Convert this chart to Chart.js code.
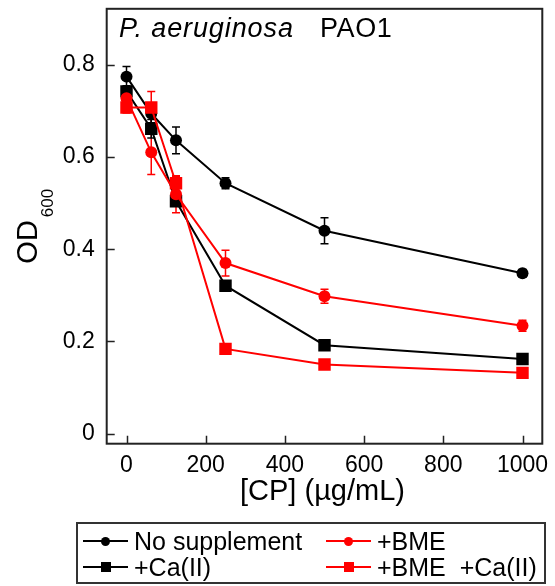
<!DOCTYPE html>
<html lang="en">
<head>
<title>P. aeruginosa PAO1</title>
<script src="https://cdn.jsdelivr.net/npm/chart.js"></script>
<style>
    body {
        margin: 0;
        background: #fff;
        font-family: 'Liberation Sans', Arial, sans-serif;
    }
    .wrap { position: relative; width: 555px; height: 586px; }
    .chart-box { position: absolute; left: 0; top: 0; width: 555px; height: 586px; }
    .legend-box {
        position: absolute;
        left: 76px; top: 522px;
        width: 470px; height: 62px;
        box-sizing: border-box;
        border: 2px solid #333;
    }
    .legend-item {
        position: absolute;
        height: 26px;
        font-size: 25px;
        line-height: 26px;
        white-space: pre;
        color: #000;
    }
    .legend-line { position: absolute; left: 0; width: 45px; top: 12px; height: 2px; }
    .legend-mark { position: absolute; }
    .legend-text { position: absolute; left: 51px; top: 0; }
</style>
</head>
<body>
<div class="wrap">
    <div class="chart-box"><canvas id="odChart"></canvas></div>
    <div class="legend-box" id="legend-container"></div>
</div>

<script>
    // concentraciones de CP (ug/mL)
    const cpValues = [0, 62.5, 125, 250, 500, 1000];

    // OD600 por condicion
    const noSupplement = [0.774, 0.694, 0.636, 0.543, 0.440, 0.348];
    const plusCa = [0.742, 0.661, 0.504, 0.321, 0.192, 0.162];
    const plusBme = [0.727, 0.610, 0.519, 0.370, 0.298, 0.234];
    const plusBmeCa = [0.707, 0.707, 0.543, 0.184, 0.150, 0.132];

    // barras de error (+/-)
    const noSupplementErr = [0.022, 0.020, 0.029, 0.012, 0.028, 0.008];
    const plusCaErr = [0.012, 0.020, 0.010, 0.010, 0.010, 0.008];
    const plusBmeErr = [0.015, 0.048, 0.040, 0.028, 0.015, 0.012];
    const plusBmeCaErr = [0.012, 0.035, 0.015, 0.010, 0.008, 0.008];

    const xTicks = [0, 200, 400, 600, 800, 1000];
    const yTicks = [0, 0.2, 0.4, 0.6, 0.8];

    // el primero se dibuja encima
    const series = [
        { label: '+BME', values: plusBme, errors: plusBmeErr, color: '#ff0000', shape: 'circle', row: 0, col: 1 },
        { label: '+BME  +Ca(II)', values: plusBmeCa, errors: plusBmeCaErr, color: '#ff0000', shape: 'rect', row: 1, col: 1 },
        { label: '+Ca(II)', values: plusCa, errors: plusCaErr, color: '#000000', shape: 'rect', row: 1, col: 0 },
        { label: 'No supplement', values: noSupplement, errors: noSupplementErr, color: '#000000', shape: 'circle', row: 0, col: 0 }
    ];

    const FONT = '"Liberation Sans", Arial, sans-serif';

    const decor = {
        id: 'decor',
        beforeDatasetsDraw(chart) {
            // barras de error detras de los marcadores
            const { ctx, scales: { x, y } } = chart;
            chart.data.datasets.forEach((ds, i) => {
                const err = series[i].errors;
                ctx.save();
                ctx.strokeStyle = ds.borderColor;
                ctx.lineWidth = 1.5;
                ds.data.forEach((p, j) => {
                    const px = x.getPixelForValue(p.x);
                    const y1 = y.getPixelForValue(p.y + err[j]);
                    const y2 = y.getPixelForValue(p.y - err[j]);
                    ctx.beginPath();
                    ctx.moveTo(px, y1); ctx.lineTo(px, y2);
                    ctx.moveTo(px - 4, y1); ctx.lineTo(px + 4, y1);
                    ctx.moveTo(px - 4, y2); ctx.lineTo(px + 4, y2);
                    ctx.stroke();
                });
                ctx.restore();
            });
        },
        afterDraw(chart) {
            const { ctx, chartArea: a, scales: { x, y } } = chart;
            ctx.save();
            // marco
            ctx.strokeStyle = '#222';
            ctx.lineWidth = 2;
            ctx.strokeRect(a.left, a.top, a.right - a.left, a.bottom - a.top);
            // ticks hacia dentro
            ctx.lineWidth = 1.5;
            ctx.beginPath();
            yTicks.forEach(v => {
                const py = Math.round(y.getPixelForValue(v)) + 0.5;
                ctx.moveTo(a.left, py); ctx.lineTo(a.left + 8, py);
            });
            xTicks.forEach(v => {
                const px = Math.round(x.getPixelForValue(v)) + 0.5;
                ctx.moveTo(px, a.bottom); ctx.lineTo(px, a.bottom - 8);
            });
            ctx.stroke();

            ctx.fillStyle = '#000';
            // titulo
            ctx.textBaseline = 'alphabetic';
            ctx.textAlign = 'left';
            ctx.font = 'italic 27px ' + FONT;
            ctx.letterSpacing = '0.9px';
            ctx.fillText('P. aeruginosa', 119, 37);
            ctx.letterSpacing = '0.6px';
            ctx.font = '27px ' + FONT;
            ctx.fillText('PAO1', 320, 37);
            ctx.letterSpacing = '0px';

            // titulo eje x
            ctx.textAlign = 'center';
            ctx.font = '29px ' + FONT;
            ctx.fillText('[CP] (\u00b5g/mL)', (a.left + a.right) / 2 - 2, 500);

            // titulo eje y con subindice
            ctx.font = '29px ' + FONT;
            const wOD = ctx.measureText('OD').width;
            ctx.font = '17px ' + FONT;
            const wSub = ctx.measureText('600').width;
            const total = wOD + 3 + wSub;
            ctx.translate(37, (a.top + a.bottom) / 2 + total / 2);
            ctx.rotate(-Math.PI / 2);
            ctx.textAlign = 'left';
            ctx.font = '29px ' + FONT;
            ctx.fillText('OD', 0, 0);
            ctx.font = '17px ' + FONT;
            ctx.fillText('600', wOD + 3, 16);
            ctx.restore();
        }
    };

    const ctx = document.getElementById('odChart').getContext('2d');
    const chart = new Chart(ctx, {
        type: 'line',
        data: {
            datasets: series.map(s => ({
                label: s.label,
                data: cpValues.map((c, i) => ({ x: c, y: s.values[i] })),
                borderColor: s.color,
                backgroundColor: s.color,
                pointBackgroundColor: s.color,
                pointBorderColor: s.color,
                pointStyle: s.shape,
                pointRadius: s.shape === 'rect' ? 8.8 : 6,
                pointBorderWidth: 0,
                borderWidth: 2,
                tension: 0
            }))
        },
        options: {
            responsive: true,
            maintainAspectRatio: false,
            animation: false,
            layout: { padding: { left: 0, right: 12.7, top: 8, bottom: 0 } },
            plugins: {
                legend: { display: false },
                tooltip: { enabled: false }
            },
            scales: {
                x: {
                    type: 'linear',
                    min: -50,
                    max: 1050,
                    afterBuildTicks: s => { s.ticks = xTicks.map(v => ({ value: v })); },
                    afterFit: s => {
                        s.height = 586 - 443.7;
                        s.paddingLeft = 0; s.paddingRight = 0;
                    },
                    grid: { display: false, drawTicks: false },
                    border: { display: false },
                    ticks: {
                        color: '#000',
                        padding: 8,
                        maxRotation: 0,
                        font: { size: 23, family: FONT },
                        callback: v => String(v)
                    }
                },
                y: {
                    min: -0.0215,
                    max: 0.921,
                    afterBuildTicks: s => { s.ticks = yTicks.map(v => ({ value: v })); },
                    afterFit: s => {
                        s.width = 106.7;
                        s.paddingTop = 0; s.paddingBottom = 0;
                    },
                    grid: { display: false, drawTicks: false },
                    border: { display: false },
                    ticks: {
                        color: '#000',
                        padding: 12,
                        font: { size: 23, family: FONT },
                        callback: v => String(Number(v.toFixed(1)))
                    }
                }
            }
        },
        plugins: [decor]
    });

    // leyenda en dos columnas
    const legendContainer = document.getElementById('legend-container');
    const colX = [5, 248];
    const rowY = [4, 30];
    series.forEach(s => {
        const item = document.createElement('div');
        item.className = 'legend-item';
        item.style.left = colX[s.col] + 'px';
        item.style.top = rowY[s.row] + 'px';
        const size = s.shape === 'rect' ? 10 : 9;
        const radius = s.shape === 'rect' ? '0' : '50%';
        item.innerHTML = `
            <div class="legend-line" style="background:${s.color};"></div>
            <div class="legend-mark" style="left:${22.5 - size / 2}px;top:${13 - size / 2}px;width:${size}px;height:${size}px;border-radius:${radius};background:${s.color};"></div>
            <span class="legend-text">${s.label}</span>
        `;
        legendContainer.appendChild(item);
    });
</script>
</body>
</html>
